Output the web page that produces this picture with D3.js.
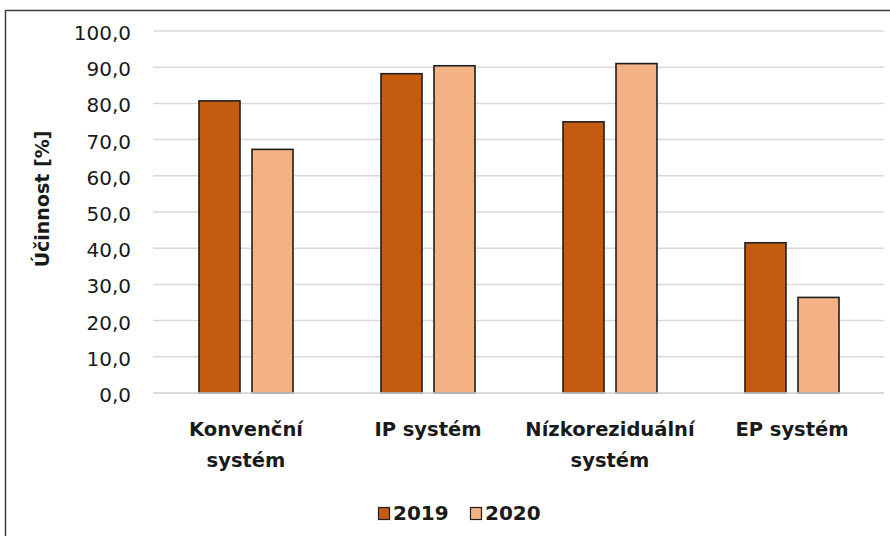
<!DOCTYPE html>
<html>
<head>
<meta charset="utf-8">
<script src="https://cdn.jsdelivr.net/npm/d3@7"></script>
<style>
  body { margin: 0; background: #fff; }
  svg text { font-family: "DejaVu Sans", sans-serif; fill: #1a1a1a; }
</style>
</head>
<body>
<div id="chart"></div>
<script>
// data
const categories = ['Konvenční systém', 'IP systém', 'Nízkoreziduální systém', 'EP systém'];
const categoryLines = [['Konvenční', 'systém'], ['IP systém'], ['Nízkoreziduální', 'systém'], ['EP systém']];
const seriesNames = ['2019', '2020'];
const values2019 = [80.7, 88.2, 74.9, 41.5];
const values2020 = [67.3, 90.4, 91.0, 26.4];
const yTicks = [0, 10, 20, 30, 40, 50, 60, 70, 80, 90, 100];
const colors = ['#C55A11', '#F4B183'];

const width = 890, height = 536;
const margin = { left: 155, right: 7, top: 31, bottom: 143 };

const svg = d3.select('#chart')
    .append('svg')
    .attr('width', width)
    .attr('height', height);

// chart frame
svg.append('rect')
    .attr('x', 5.5)
    .attr('y', 10.5)
    .attr('width', 900)
    .attr('height', 600)
    .attr('fill', 'none')
    .attr('stroke', '#3f3f3f')
    .attr('stroke-width', 1.5);

const y = d3.scaleLinear()
    .domain([0, 100])
    .range([height - margin.bottom, margin.top]);

const x0 = d3.scaleBand()
    .domain(categories)
    .range([margin.left, width - margin.right])
    .paddingInner(0.4835)
    .paddingOuter(0.4835 / 2);

const x1 = d3.scaleBand()
    .domain(seriesNames)
    .range([0, x0.bandwidth()])
    .paddingInner(0.2264);

// gridlines
svg.append('g')
    .selectAll('line')
    .data(yTicks)
    .enter().append('line')
    .attr('x1', margin.left - 2)
    .attr('x2', 884)
    .attr('y1', d => y(d))
    .attr('y2', d => y(d))
    .attr('stroke', '#d9d9d9')
    .attr('stroke-width', 1.5);

// y axis labels
const yAxis = svg.append('g')
    .attr('transform', `translate(${margin.left},0)`)
    .call(d3.axisLeft(y)
        .tickValues(yTicks)
        .tickSize(0)
        .tickPadding(24)
        .tickFormat(d => d.toFixed(1).replace('.', ',')));
yAxis.select('.domain').remove();
yAxis.selectAll('text')
    .attr('font-size', '20px')
    .attr('font-family', '"DejaVu Sans", sans-serif')
    .attr('fill', '#262626')
    .attr('dy', '0.42em');

// bars
const rows = categories.map((c, i) => ({ cat: c, vals: [values2019[i], values2020[i]] }));

const groups = svg.append('g')
    .selectAll('g')
    .data(rows)
    .enter().append('g')
    .attr('transform', d => `translate(${x0(d.cat)},0)`);

groups.selectAll('rect')
    .data(d => d.vals.map((v, i) => ({ name: seriesNames[i], value: v, i: i })))
    .enter().append('rect')
    .attr('x', d => x1(d.name))
    .attr('y', d => y(d.value))
    .attr('width', x1.bandwidth())
    .attr('height', d => y(0) - y(d.value))
    .attr('fill', d => colors[d.i])
    .attr('stroke', '#1f1f1f')
    .attr('stroke-width', 1.6);

// baseline
svg.append('line')
    .attr('x1', margin.left - 2)
    .attr('x2', 884)
    .attr('y1', y(0))
    .attr('y2', y(0))
    .attr('stroke', '#d9d9d9')
    .attr('stroke-width', 1.5);

// category labels
const catLabels = svg.append('g')
    .selectAll('text')
    .data(categories)
    .enter().append('text')
    .attr('text-anchor', 'middle')
    .attr('font-size', '19.5px')
    .attr('font-weight', 'bold');

catLabels.selectAll('tspan')
    .data((d, i) => categoryLines[i].map(t => ({ t: t, cat: d })))
    .enter().append('tspan')
    .attr('x', d => x0(d.cat) + x0.bandwidth() / 2)
    .attr('y', (d, j) => 436 + j * 31)
    .text(d => d.t);

// y axis title
svg.append('text')
    .attr('transform', 'translate(49,199) rotate(-90)')
    .attr('text-anchor', 'middle')
    .attr('font-size', '19px')
    .attr('font-weight', 'bold')
    .text('Účinnost [%]');

// legend
const legend = svg.append('g')
    .selectAll('g')
    .data(seriesNames)
    .enter().append('g')
    .attr('transform', (d, i) => `translate(${378 + i * 92},507)`);

legend.append('rect')
    .attr('x', 0.5)
    .attr('y', 0.5)
    .attr('width', 11)
    .attr('height', 12)
    .attr('fill', (d, i) => colors[i])
    .attr('stroke', '#1f1f1f')
    .attr('stroke-width', 1.2);

legend.append('text')
    .attr('x', 15)
    .attr('y', 12.5)
    .attr('font-size', '20px')
    .attr('font-weight', 'bold')
    .text(d => d);
</script>
</body>
</html>
